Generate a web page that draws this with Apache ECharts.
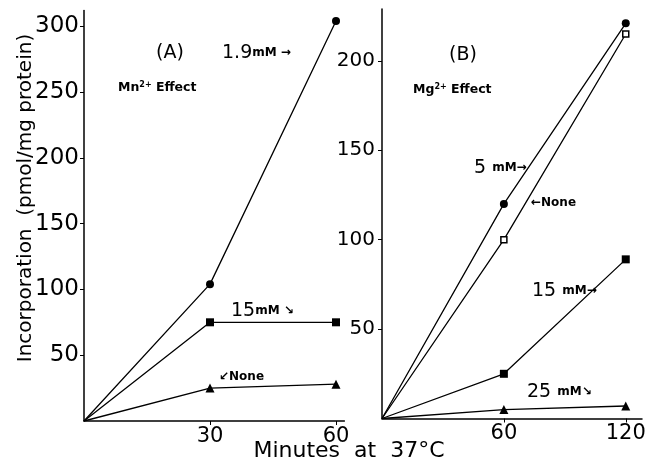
<!DOCTYPE html>
<html lang="en">
<head>
    <meta charset="UTF-8">
    <script src="https://cdn.jsdelivr.net/npm/echarts@6/dist/echarts.min.js"></script>
    <title>Incorporation</title>
    <style>
        html, body { margin: 0; padding: 0; background: #fff; }
        #main { width: 650px; height: 463px; }
    </style>
</head>
<body>
<div id="main"></div>
<script>
    // panel A - Mn2+ effect
    var timeA = [0, 30, 60];
    var mn19 = [0, 104, 304];
    var mn15 = [0, 75, 75];
    var mnNone = [0, 25, 28];
    // panel B - Mg2+ effect
    var timeB = [0, 60, 120];
    var mg5 = [0, 120, 221];
    var mgNone = [0, 100, 215];
    var mg15 = [0, 25, 89];
    var mg25 = [0, 5, 7];
    // tick labels
    var xTicksA = [30, 60];
    var yTicksA = [50, 100, 150, 200, 250, 300];
    var xTicksB = [60, 120];
    var yTicksB = [50, 100, 150, 200];

    var FONT = 'DejaVu Sans';
    var chart = echarts.init(document.getElementById('main'));

    function pairs(xs, ys) {
        return xs.map(function (x, i) { return [x, ys[i]]; });
    }

    //原点不画符号
    function mkSeries(name, xi, xs, ys, symbol, size, empty) {
        return {
            name: name,
            type: 'line',
            xAxisIndex: xi,
            yAxisIndex: xi,
            data: pairs(xs, ys),
            symbol: symbol,
            symbolSize: function (v, p) { return p.dataIndex === 0 ? 0 : size; },
            showAllSymbol: true,
            lineStyle: { color: '#000', width: 1.3 },
            itemStyle: empty ? { color: '#fff', borderColor: '#000', borderWidth: 1.5 }
                             : { color: '#000', borderWidth: 0 },
            animation: false
        };
    }

    function axisX(grid, max, ticks) {
        return {
            type: 'value', gridIndex: grid, min: 0, max: max,
            axisLine: { lineStyle: { color: '#000', width: 1.5 } },
            axisTick: { customValues: ticks, length: 4, lineStyle: { color: '#000' } },
            axisLabel: { customValues: ticks, color: '#000', fontFamily: FONT, fontSize: 21, margin: 5 },
            splitLine: { show: false }
        };
    }

    function axisY(grid, max, ticks, fs, margin) {
        return {
            type: 'value', gridIndex: grid, min: 0, max: max,
            axisLine: { lineStyle: { color: '#000', width: 1.5 } },
            axisTick: { customValues: ticks, length: 4, lineStyle: { color: '#000' } },
            axisLabel: { customValues: ticks, color: '#000', fontFamily: FONT, fontSize: fs, margin: margin },
            splitLine: { show: false }
        };
    }

    function label(x, y, rich, text) {
        return { type: 'text', x: x, y: y, style: { text: text, rich: rich, fill: '#000', verticalAlign: 'middle', textVerticalAlign: 'middle' } };
    }

    var rich = {
        n: { fontFamily: FONT, fontSize: 19, color: '#000' },
        u: { fontFamily: FONT, fontSize: 12, fontWeight: 'bold', color: '#000' },
        s: { fontFamily: FONT, fontSize: 12.5, fontWeight: 'bold', color: '#000' },
        sup: { fontFamily: FONT, fontSize: 8, fontWeight: 'bold', color: '#000', verticalAlign: 'top', padding: [0, 0, 6, 0] },
        p: { fontFamily: FONT, fontSize: 19, color: '#000' }
    };

    var option = {
        backgroundColor: '#fff',
        animation: false,
        grid: [
            { left: 84, top: 10.4, width: 260.4, height: 410.6 },
            { left: 382, top: 9, width: 260, height: 409.5 }
        ],
        xAxis: [axisX(0, 62, xTicksA), axisX(1, 128, xTicksB)],
        yAxis: [axisY(0, 312, yTicksA, 23, 5), axisY(1, 229, yTicksB, 20, 7)],
        series: [
            mkSeries('1.9 mM', 0, timeA, mn19, 'circle', 8),
            mkSeries('15 mM', 0, timeA, mn15, 'rect', 8),
            mkSeries('None', 0, timeA, mnNone, 'triangle', 9),
            mkSeries('5 mM', 1, timeB, mg5, 'circle', 8),
            mkSeries('None', 1, timeB, mgNone, 'rect', 6, true),
            mkSeries('15 mM', 1, timeB, mg15, 'rect', 8),
            mkSeries('25 mM', 1, timeB, mg25, 'triangle', 9)
        ],
        graphic: [
            {
                type: 'text', x: 26, y: 198, rotation: Math.PI / 2,
                style: { text: 'Incorporation  (pmol/mg protein)', font: '20px ' + FONT, fill: '#000',
                         align: 'center', verticalAlign: 'middle', textAlign: 'center', textVerticalAlign: 'middle' }
            },
            {
                type: 'text', x: 349, y: 451,
                style: { text: 'Minutes  at  37°C', font: '22px ' + FONT, fill: '#000',
                         align: 'center', verticalAlign: 'middle', textAlign: 'center', textVerticalAlign: 'middle' }
            },
            label(156, 53, rich, '{p|(A)}'),
            label(118, 88, rich, '{s|Mn}{sup|2+}{s| Effect}'),
            label(222, 53, rich, '{n|1.9}{u|mM →}'),
            label(231, 311, rich, '{n|15}{u|mM ↘}'),
            label(219, 377, rich, '{u|↙None}'),
            label(449, 55, rich, '{p|(B)}'),
            label(413, 90, rich, '{s|Mg}{sup|2+}{s| Effect}'),
            label(474, 168, rich, '{n|5 }{u|mM→}'),
            label(531, 203, rich, '{u|←None}'),
            label(532, 291, rich, '{n|15 }{u|mM→}'),
            label(527, 392, rich, '{n|25 }{u|mM↘}')
        ]
    };
    chart.setOption(option);
</script>
</body>
</html>
